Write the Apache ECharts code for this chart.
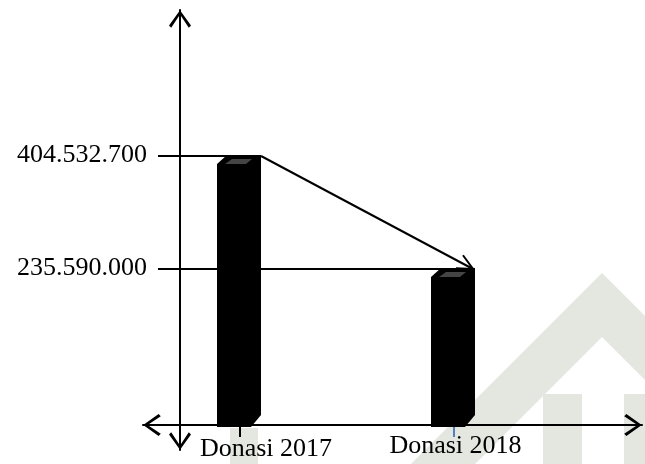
<!DOCTYPE html>
<html>
<head>
<meta charset="utf-8">
<script src="https://cdn.jsdelivr.net/npm/echarts@6/dist/echarts.min.js"></script>
<style>
  html, body { margin: 0; padding: 0; background: #fff; }
  #main { width: 645px; height: 464px; }
</style>
</head>
<body>
<div id="main"></div>
<script>
// data
const categories = ['Donasi 2017', 'Donasi 2018']
const donasi = [404532700, 235590000]
const yTickValues = [235590000, 404532700]
const tickColors = ['#000', '#4f81bd']

const FONT = 'Liberation Serif, Times New Roman, serif'
const WM = '#e4e6e0'
// open V arrow head used on both axes
const ARROW = 'path://M10,0 L20,14 L18,16 L10,4 L2,16 L0,14 Z'
const AXIS_X = 180

const fmt = (v) => String(Math.round(v)).replace(/\B(?=(\d{3})+(?!\d))/g, '.')

function renderBar(params, api) {
  const i = params.dataIndex
  const top = api.coord([api.value(0), api.value(1)])
  const base = api.coord([api.value(0), 0])
  const cx = top[0]
  const yb = Math.round(top[1])
  const yz = base[1]
  const x0 = cx - 23
  const kids = [
    // guide line from the y axis over to the bar
    {
      type: 'line', z2: 1,
      shape: { x1: AXIS_X - 22, y1: yb + 1, x2: x0 + 20, y2: yb + 1 },
      style: { stroke: '#000', lineWidth: 2 },
    },
    // category tick
    {
      type: 'line', z2: 1,
      shape: { x1: cx, y1: yz, x2: cx, y2: yz + 12 },
      style: { stroke: tickColors[i], lineWidth: 2 },
    },
    // 3d column silhouette
    {
      type: 'polygon', z2: 5,
      shape: {
        points: [[x0, yz + 2], [x0, yb + 9], [x0 + 10, yb], [x0 + 44, yb],
          [x0 + 44, yz - 10], [x0 + 34, yz + 2]],
      },
      style: { fill: '#000' },
    },
    // top face
    {
      type: 'polygon', z2: 6,
      shape: { points: [[x0 + 8, yb + 9], [x0 + 15, yb + 4], [x0 + 35, yb + 4], [x0 + 29, yb + 9]] },
      style: { fill: '#444' },
    },
  ]
  if (i < donasi.length - 1) {
    const nt = api.coord([i + 1, donasi[i + 1]])
    const p0 = [x0 + 44, yb + 1]
    const p1 = [nt[0] + 19, Math.round(nt[1]) + 1]
    const ang = Math.atan2(p1[1] - p0[1], p1[0] - p0[0])
    const L = 17, a = 0.45
    const h1 = [p1[0] - L * Math.cos(ang - a), p1[1] - L * Math.sin(ang - a)]
    const h2 = [p1[0] - L * Math.cos(ang + a), p1[1] - L * Math.sin(ang + a)]
    kids.push({
      type: 'line', z2: 7,
      shape: { x1: p0[0], y1: p0[1], x2: p1[0], y2: p1[1] },
      style: { stroke: '#000', lineWidth: 2 },
    })
    kids.push({
      type: 'polyline', z2: 7,
      shape: { points: [h1, p1, h2] },
      style: { stroke: '#000', lineWidth: 2, fill: null },
    })
  }
  return { type: 'group', children: kids }
}

const chart = echarts.init(document.getElementById('main'))
const option = {
  animation: false,
  backgroundColor: '#fff',
  graphic: [
    {
      type: 'polygon', z: -10, silent: true,
      shape: { points: [[602, 273], [793, 464], [729, 464], [602, 337], [475, 464], [411, 464]] },
      style: { fill: WM },
    },
    { type: 'rect', z: -10, silent: true, shape: { x: 543, y: 394, width: 39, height: 70 }, style: { fill: WM } },
    { type: 'rect', z: -10, silent: true, shape: { x: 624, y: 394, width: 40, height: 70 }, style: { fill: WM } },
    { type: 'rect', z: -10, silent: true, shape: { x: 230, y: 428, width: 28, height: 36 }, style: { fill: WM } },
  ],
  grid: { left: 143, right: 3, top: 10, bottom: 14, outerBoundsMode: 'none' },
  xAxis: {
    type: 'value',
    min: -0.4533,
    max: 1.8785,
    offset: -25,
    splitLine: { show: false },
    axisTick: { show: false },
    axisLine: {
      show: true,
      onZero: false,
      lineStyle: { color: '#000', width: 2 },
      symbol: [ARROW, ARROW],
      symbolSize: [22, 18],
      symbolOffset: [9, -9],
    },
    axisLabel: {
      customValues: [0, 1],
      margin: 8,
      formatter: (v) => {
        const i = Math.round(v)
        return '{l' + i + '|' + categories[i] + '}'
      },
      rich: {
        l0: { fontFamily: FONT, fontSize: 26, color: '#000', padding: [3, 0, 0, 52] },
        l1: { fontFamily: FONT, fontSize: 26, color: '#000', padding: [0, 0, 0, 3] },
      },
    },
  },
  yAxis: {
    type: 'value',
    min: -37500000,
    max: 622500000,
    offset: -37,
    splitLine: { show: false },
    axisTick: { show: false },
    axisLine: {
      show: true,
      onZero: false,
      lineStyle: { color: '#000', width: 2 },
      symbol: [ARROW, ARROW],
      symbolSize: [22, 18],
      symbolOffset: [9, -9],
    },
    axisLabel: {
      customValues: yTickValues,
      margin: 33,
      formatter: fmt,
      fontFamily: FONT,
      fontSize: 26,
      color: '#000',
    },
  },
  series: [
    {
      type: 'custom',
      renderItem: renderBar,
      data: donasi.map((v, i) => [i, v]),
      encode: { x: 0, y: 1 },
      clip: false,
      z: 2,
    },
  ],
}
chart.setOption(option)
</script>
</body>
</html>
